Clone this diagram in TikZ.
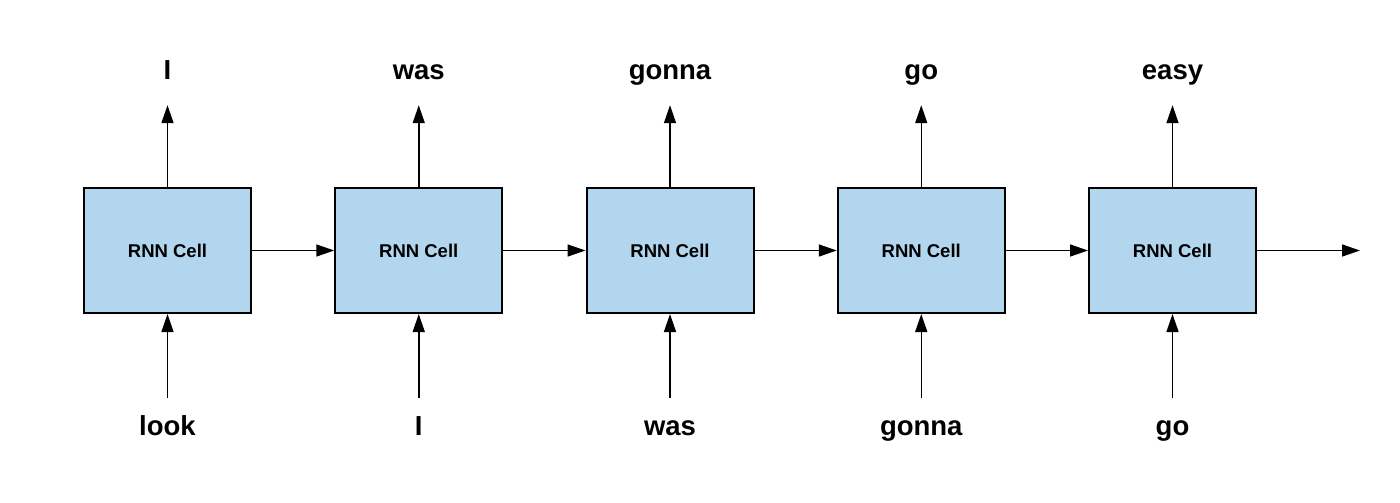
\documentclass[tikz,border=0pt]{standalone}
\usepackage{fontspec}
\setmainfont{Liberation Sans}
\usetikzlibrary{arrows.meta}
\definecolor{cellblue}{RGB}{178,214,238}
\begin{document}
\begin{tikzpicture}[x=1pt,y=-1pt,
  cell/.style={draw=black,line width=2pt,fill=cellblue,minimum width=167pt,minimum height=125pt,inner sep=0pt,
    font=\fontsize{18.5}{21}\selectfont\bfseries},
  outword/.style={anchor=base,text height=19pt,text depth=6pt,inner xsep=0pt,inner ysep=20pt,
    font=\fontsize{27.5}{31}\selectfont\bfseries},
  inword/.style={anchor=base,text height=19pt,text depth=6pt,inner xsep=0pt,inner ysep=18pt,
    font=\fontsize{27.5}{31}\selectfont\bfseries},
  arr/.style={line width=1.5pt,-{Triangle[length=18pt,width=12pt]}}]
\useasboundingbox (0,0) rectangle (1400,503);
\foreach \i/\o/\w [count=\k from 0] in {1/I/look,2/was/I,3/gonna/was,4/go/gonna,5/easy/go}{
  \pgfmathsetmacro{\cx}{167.5+251.25*\k}
  \node[cell] (b\i) at (\cx,250.5) {RNN Cell};
  \node[outword] (o\i) at (\cx,79) {\o};
  \node[inword] (n\i) at (\cx,435) {\w};
  \draw[arr] (b\i.north) -- (o\i.south);
  \draw[arr] (n\i.north) -- (b\i.south);
}
\coordinate (end) at (1360,250.5);
\draw[arr] (b1.east) -- (b2.west);
\draw[arr] (b2.east) -- (b3.west);
\draw[arr] (b3.east) -- (b4.west);
\draw[arr] (b4.east) -- (b5.west);
\draw[arr] (b5.east) -- (end);
\end{tikzpicture}
\end{document}
